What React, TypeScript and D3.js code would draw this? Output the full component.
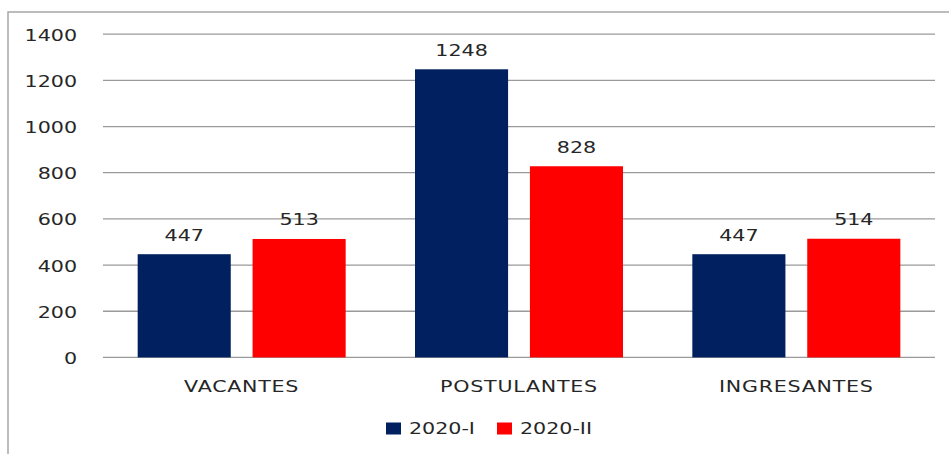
import React from 'react';
import * as d3 from 'd3';

const categories = ['VACANTES', 'POSTULANTES', 'INGRESANTES'];
const seriesNames = ['2020-I', '2020-II'];
const values2020I = [447, 1248, 447];
const values2020II = [513, 828, 514];
const yTicks = [0, 200, 400, 600, 800, 1000, 1200, 1400];

const colors = ['#002060', '#FF0000'];

export default function App(): JSX.Element {
  const width = 949;
  const height = 454;
  const plot = { left: 103, right: 935, top: 34.2, bottom: 357.4 };

  const x = d3
    .scaleBand()
    .domain(categories)
    .range([plot.left, plot.right])
    .paddingInner(0.25)
    .paddingOuter(0.125);

  const xInner = d3
    .scaleBand()
    .domain(seriesNames)
    .range([0, x.bandwidth()])
    .paddingInner(0.19);

  const y = d3.scaleLinear().domain([0, 1400]).range([plot.bottom, plot.top]);

  const series = [values2020I, values2020II];
  const font = "'DejaVu Sans', Verdana, sans-serif";
  const textColor = '#262626';
  const sx = 1.25;

  const txt = (
    key: string,
    tx: number,
    ty: number,
    s: string,
    anchor: 'start' | 'middle' | 'end',
    spacing = 0
  ) => (
    <text
      key={key}
      transform={`translate(${tx},${ty}) scale(${sx},1)`}
      textAnchor={anchor}
      fontFamily={font}
      fontSize={16.5}
      letterSpacing={spacing}
      fill={textColor}
    >
      {s}
    </text>
  );

  return (
    <svg
      width={width}
      height={height}
      style={{ position: 'absolute', left: 0, top: 0, background: '#fff' }}
    >
      {/* outer frame */}
      <rect x={8} y={12} width={width} height={height} fill="none" stroke="#a6a6a6" strokeWidth={1.5} />

      {/* grid */}
      {yTicks.map((t) => (
        <line
          key={'g' + t}
          x1={plot.left}
          x2={plot.right}
          y1={y(t)}
          y2={y(t)}
          stroke="#9a9a9a"
          strokeWidth={1.3}
        />
      ))}
      {yTicks.map((t) => txt('yt' + t, 77, y(t) + 6.5, String(t), 'end'))}

      {/* bars */}
      {series.map((vals, si) =>
        categories.map((c, ci) => {
          const bx = (x(c) as number) + (xInner(seriesNames[si]) as number);
          return (
            <rect
              key={`b${si}-${ci}`}
              x={bx}
              y={y(vals[ci])}
              width={xInner.bandwidth()}
              height={y(0) - y(vals[ci])}
              fill={colors[si]}
            />
          );
        })
      )}
      {series.map((vals, si) =>
        categories.map((c, ci) => {
          const bx = (x(c) as number) + (xInner(seriesNames[si]) as number);
          return txt(`v${si}-${ci}`, bx + xInner.bandwidth() / 2, y(vals[ci]) - 13.5, String(vals[ci]), 'middle');
        })
      )}

      {/* category labels */}
      {categories.map((c) => txt('c' + c, (x(c) as number) + x.bandwidth() / 2, 391.5, c, 'middle', 0.6))}

      {/* legend */}
      {seriesNames.map((n, i) => {
        const lx = [386, 497][i];
        return (
          <g key={'l' + n}>
            <rect x={lx} y={422.5} width={15} height={12} fill={colors[i]} />
            {txt('lt' + n, lx + 23, 434.3, n, 'start')}
          </g>
        );
      })}
    </svg>
  );
}
